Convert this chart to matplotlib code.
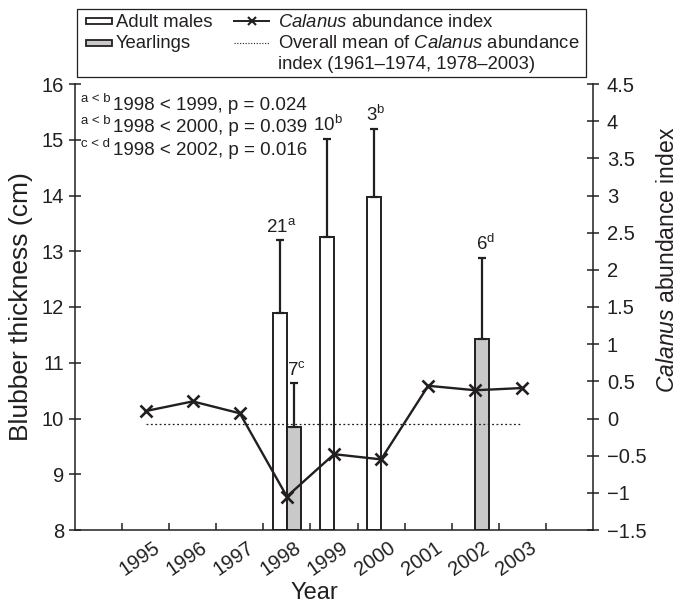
import numpy as np
import matplotlib
matplotlib.use("Agg")
import matplotlib.pyplot as plt
from matplotlib.patches import Rectangle
from matplotlib.lines import Line2D
import matplotlib.transforms as mtransforms

plt.rcParams['font.family'] = ['Liberation Sans', 'DejaVu Sans']
plt.rcParams['mathtext.fontset'] = 'custom'
plt.rcParams['mathtext.rm'] = 'Liberation Sans'
plt.rcParams['mathtext.it'] = 'Liberation Sans:italic'

# data
years = [1995, 1996, 1997, 1998, 1999, 2000, 2001, 2002, 2003]
calanus = [0.10, 0.23, 0.07, -1.05, -0.48, -0.55, 0.44, 0.38, 0.41]
calanus_mean = -0.08

adult_years = [1998, 1999, 2000]
adult_mean = [11.9, 13.25, 13.97]
adult_err = [1.3, 1.76, 1.22]
adult_n = ["21$^{\\mathrm{a}}$", "10$^{\\mathrm{b}}$", "3$^{\\mathrm{b}}$"]

yearling_years = [1998, 2002]
yearling_mean = [9.85, 11.42]
yearling_err = [0.78, 1.45]
yearling_n = ["7$^{\\mathrm{c}}$", "6$^{\\mathrm{d}}$"]

stats_sup = ["a < b", "a < b", "c < d"]
stats_txt = ["1998 < 1999, p = 0.024", "1998 < 2000, p = 0.039", "1998 < 2002, p = 0.016"]

DARK = '#231f20'
GRAY = '#c9c9c9'

fig = plt.figure(figsize=(6.88, 6.04), dpi=100)
ax = fig.add_axes([75/688, 74/604, 518/688, 446/604])
ax2 = ax.twinx()

xpos = {y: i + 1 for i, y in enumerate(years)}
w = 0.30

ax_x = [xpos[y] - w/2 for y in adult_years]
ax.bar(ax_x, [m - 8 for m in adult_mean], bottom=8, width=w, color='white',
       edgecolor=DARK, linewidth=1.4, zorder=2)
ax.errorbar(ax_x, adult_mean, yerr=[np.zeros(len(adult_err)), adult_err], fmt='none',
            ecolor=DARK, elinewidth=1.6, capsize=2.6, capthick=1.6, zorder=3)
yx = [xpos[y] + w/2 for y in yearling_years]
ax.bar(yx, [m - 8 for m in yearling_mean], bottom=8, width=w, color=GRAY,
       edgecolor=DARK, linewidth=1.4, zorder=2)
ax.errorbar(yx, yearling_mean, yerr=[np.zeros(len(yearling_err)), yearling_err], fmt='none',
            ecolor=DARK, elinewidth=1.6, capsize=2.6, capthick=1.6, zorder=3)

for x, m, e, s in zip(ax_x, adult_mean, adult_err, adult_n):
    ax.annotate(s, (x, m + e), xytext=(1, 3), textcoords='offset points',
                ha='center', va='bottom', fontsize=13.5, color=DARK)
for x, m, e, s in zip(yx, yearling_mean, yearling_err, yearling_n):
    ax.annotate(s, (x, m + e), xytext=(2, 3), textcoords='offset points',
                ha='center', va='bottom', fontsize=13.5, color=DARK)

xs = [xpos[y] for y in years]
ax2.plot(xs, calanus, color=DARK, lw=1.7, marker='x', ms=8, mew=1.9, zorder=4)
ax2.plot([xs[0], xs[-1]], [calanus_mean, calanus_mean], color=DARK, lw=0.9,
         linestyle=(0, (1.5, 2)), zorder=3)

ax.set_xlim(-0.5, 10.5)
ax.set_ylim(8, 16)
ax2.set_ylim(-1.5, 4.5)
ax.set_yticks(np.arange(8, 17, 1))
ax2.set_yticks(np.arange(-1.5, 4.6, 0.5))
ax2.set_yticklabels(['\u22121.5', '\u22121', '\u22120.5', '0', '0.5', '1', '1.5',
                     '2', '2.5', '3', '3.5', '4', '4.5'])

ax.set_xticks(xs)
ax.set_xticklabels([str(y) for y in years], rotation=35, fontsize=14.5)
ax.set_xticks(np.arange(0.5, 10, 1), minor=True)
ax.tick_params(axis='x', which='major', length=0, pad=6, colors=DARK)
ax.tick_params(axis='x', which='minor', length=5, width=1.1, direction='in', color=DARK)
off = mtransforms.ScaledTranslation(-6/100, 0, fig.dpi_scale_trans)
for lab in ax.get_xticklabels():
    lab.set_transform(lab.get_transform() + off)

ax.tick_params(axis='y', length=8, width=1.1, direction='inout', labelsize=14.5, pad=4, colors=DARK)
ax2.tick_params(axis='y', length=8, width=1.1, direction='inout', labelsize=14.5, pad=6, colors=DARK)

for a in (ax, ax2):
    a.spines['top'].set_visible(False)
    for sp in a.spines.values():
        sp.set_linewidth(1.1)
        sp.set_color(DARK)
ax.spines['right'].set_visible(False)
ax2.spines['left'].set_visible(False)
ax2.spines['bottom'].set_visible(False)

ax.set_xlabel('Year', fontsize=17, color=DARK)
ax.xaxis.set_label_coords(0.463, -0.117)
ax.set_ylabel('Blubber thickness (cm)', fontsize=19, color=DARK)
ax.yaxis.set_label_coords(-0.082, 0.5)
ax2.set_ylabel('$\\mathit{Calanus}$ abundance index', fontsize=16.5, color=DARK)
ax2.yaxis.set_label_coords(1.122, 0.605)

# overlay in pixel coords for legend and stats text
ov = fig.add_axes([0, 0, 1, 1], zorder=10)
ov.set_xlim(0, 688)
ov.set_ylim(604, 0)
ov.axis('off')
ov.patch.set_alpha(0)

ov.add_patch(Rectangle((77, 9), 509, 68, fill=False, edgecolor=DARK, lw=0.9))
ov.add_patch(Rectangle((86, 17.5), 26, 6, facecolor='white', edgecolor=DARK, lw=1.3))
ov.add_patch(Rectangle((86, 39.5), 26, 6, facecolor=GRAY, edgecolor=DARK, lw=1.3))
ov.text(116, 27, 'Adult males', fontsize=13.3, color=DARK, va='baseline')
ov.text(116, 48, 'Yearlings', fontsize=13.3, color=DARK, va='baseline')
ov.add_line(Line2D([234, 269], [20.5, 20.5], color=DARK, lw=1.4))
ov.add_line(Line2D([251.5], [20.5], color=DARK, marker='x', ms=6, mew=1.5))
ov.add_line(Line2D([234, 269], [43, 43], color=DARK, lw=0.8, linestyle=(0, (1, 1.5))))
ov.text(278, 27, '$\\mathit{Calanus}$ abundance index', fontsize=13.3, color=DARK, va='baseline')
ov.text(278, 48, 'Overall mean of $\\mathit{Calanus}$ abundance', fontsize=13.3, color=DARK, va='baseline')
ov.text(278, 69, 'index (1961\u20131974, 1978\u20132003)', fontsize=13.3, color=DARK, va='baseline')

for i, (sp, tx) in enumerate(zip(stats_sup, stats_txt)):
    base = 110 + i * 22.5
    ov.text(81, base - 8, sp, fontsize=9.5, color=DARK, va='baseline')
    ov.text(113, base, tx, fontsize=13.5, color=DARK, va='baseline')

fig.savefig('out.png', dpi=100)
